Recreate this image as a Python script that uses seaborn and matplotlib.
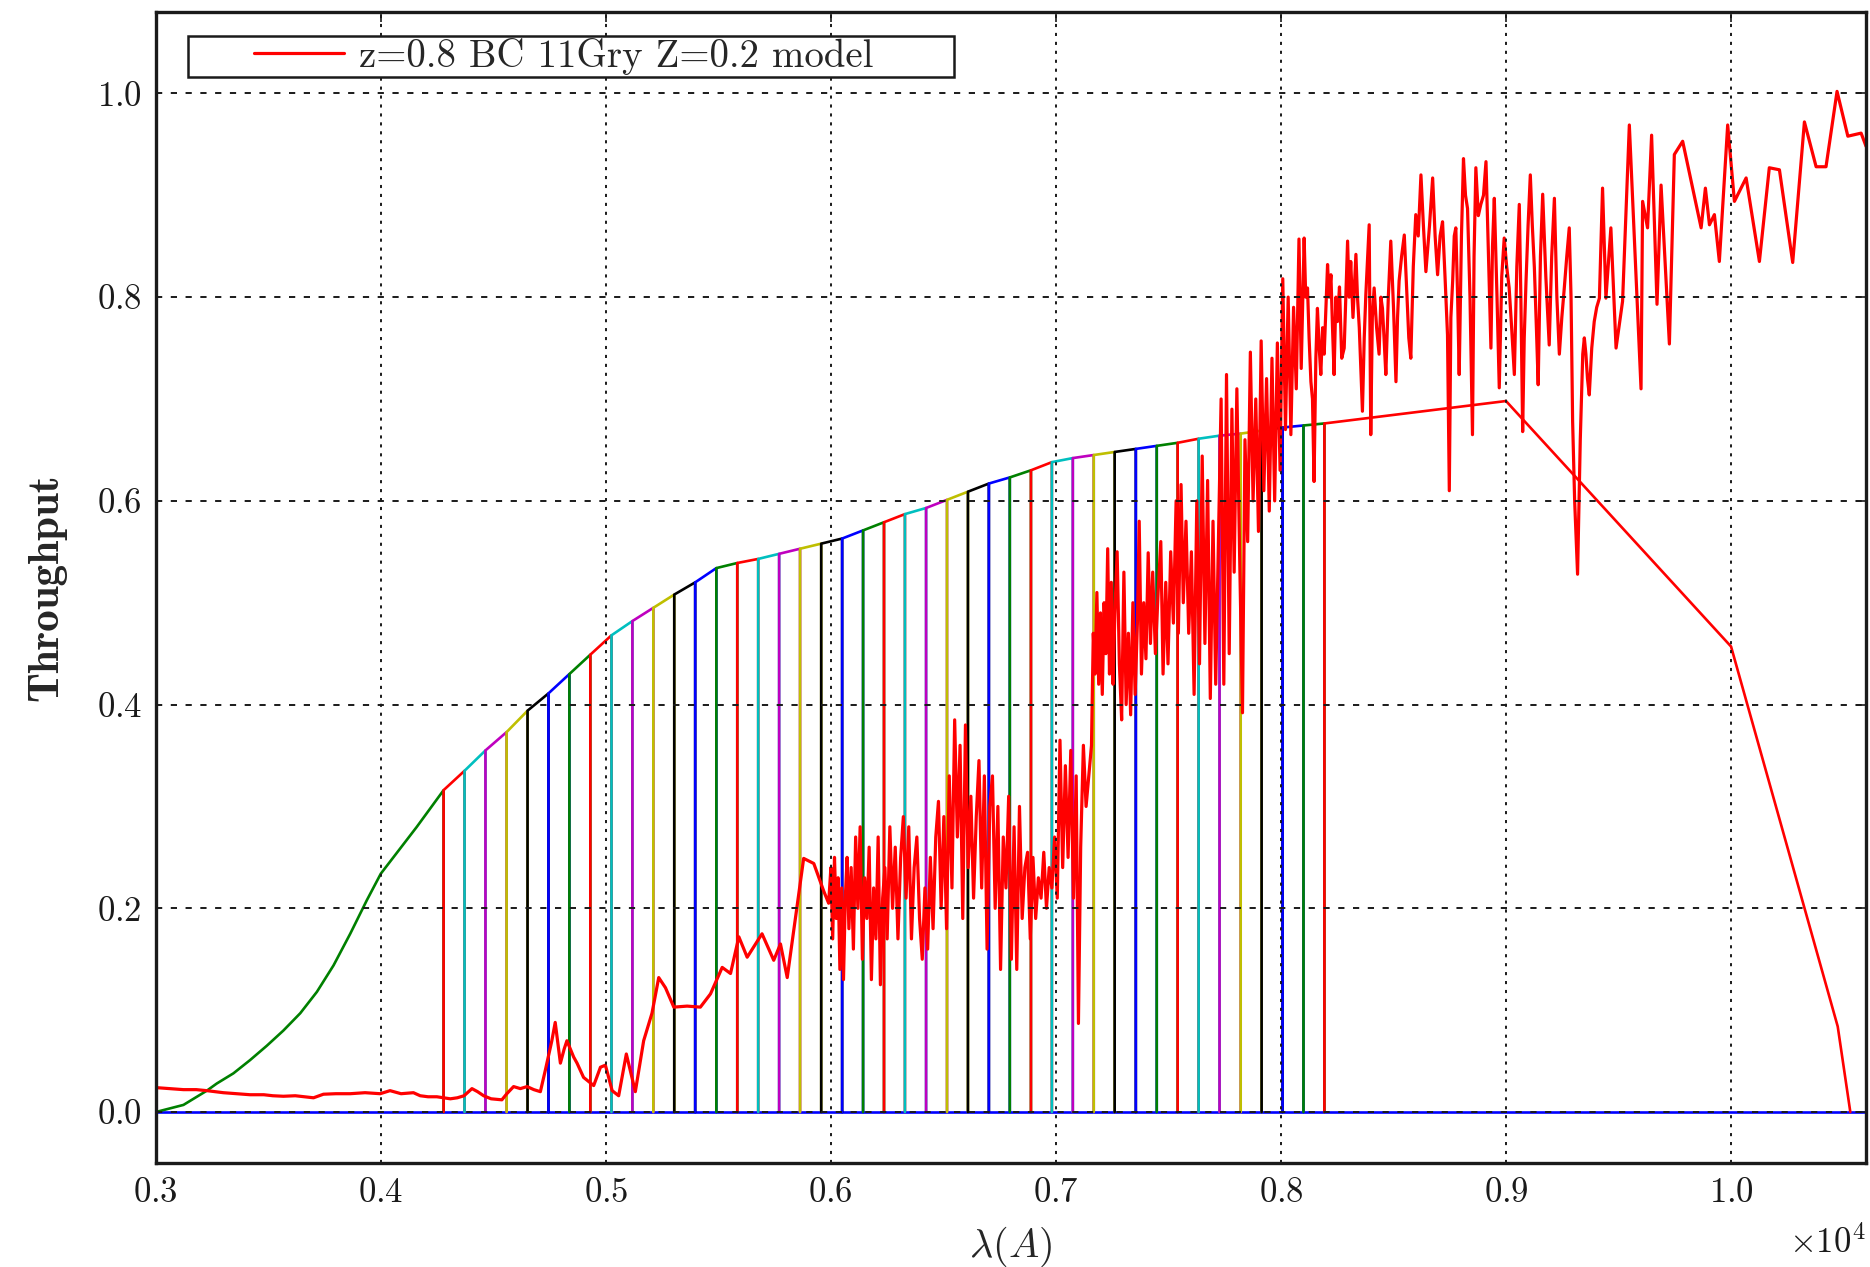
import matplotlib
matplotlib.use("Agg")
import matplotlib.pyplot as plt
import seaborn as sns
from matplotlib.ticker import ScalarFormatter, MultipleLocator
from matplotlib.legend_handler import HandlerLine2D

# ---------------------------------------------------------------------------
# Model spectrum (observed frame, Angstrom) and normalised flux
# ---------------------------------------------------------------------------
spec_wave = [
    3000, 3060, 3123, 3180, 3227, 3300, 3360, 3419, 3480, 3520, 3567, 3620,
    3660, 3701, 3745, 3800, 3864, 3930, 3997, 4041, 4090, 4145, 4175, 4210,
    4249, 4280, 4309, 4340, 4370, 4405, 4430, 4457, 4490, 4538, 4560, 4590,
    4620, 4650, 4680, 4709, 4731, 4760, 4775, 4798, 4815, 4827, 4857, 4872,
    4901, 4946, 4976, 4998, 5028, 5057, 5091, 5131, 5168, 5205, 5235, 5265,
    5302, 5361, 5420, 5465, 5517, 5554, 5591, 5628, 5694, 5746, 5776, 5806,
    5879, 5924, 5968,
    5990, 6000, 6008, 6016, 6024, 6032, 6040, 6048, 6056, 6064, 6072, 6080,
    6090, 6100, 6110, 6120, 6130, 6140, 6150, 6160, 6170, 6180, 6190, 6200,
    6210, 6220, 6230, 6240, 6250, 6262, 6274, 6286, 6298, 6310, 6322, 6334,
    6346, 6358, 6370, 6382, 6394, 6406, 6418, 6430, 6442, 6454, 6466, 6478,
    6490, 6502, 6514, 6526, 6538, 6550, 6562, 6574, 6586, 6598, 6610, 6622,
    6634, 6646, 6658, 6670, 6682, 6694, 6706, 6718, 6730, 6742, 6754, 6766,
    6778, 6790, 6802, 6814, 6826, 6838, 6850, 6862, 6874, 6886, 6898, 6910,
    6922, 6934, 6946, 6958, 6970, 6982, 6994, 7006, 7018, 7030, 7042, 7054,
    7066, 7078, 7090, 7100, 7110, 7122, 7134, 7146,
    7158, 7166, 7174, 7182, 7190, 7198, 7206, 7214, 7222, 7230, 7238, 7246,
    7254, 7262, 7272, 7282, 7292, 7302, 7312, 7322, 7332, 7342, 7352, 7362,
    7370, 7380, 7390, 7400, 7410, 7420, 7430, 7442, 7454, 7466, 7476, 7488,
    7498, 7510, 7522, 7534, 7544, 7556, 7566, 7578, 7590, 7602, 7614, 7626,
    7638, 7650, 7662, 7674, 7686, 7698, 7710, 7722, 7734, 7746, 7758, 7770,
    7782, 7792, 7804, 7816, 7829, 7840, 7852, 7864, 7876, 7888, 7900, 7912,
    7924, 7936, 7948, 7960, 7972, 7984, 7996, 8008, 8020, 8032, 8044, 8056,
    8068, 8080, 8090,
    8103, 8110, 8118, 8125, 8133, 8140, 8147, 8155, 8162, 8170, 8177, 8185,
    8192, 8200, 8207, 8214, 8222, 8229, 8236, 8244, 8251, 8260, 8270, 8281,
    8288, 8296, 8303, 8310, 8320, 8333, 8340, 8348, 8355, 8362, 8370, 8377,
    8385, 8392, 8399, 8406, 8414, 8425, 8436, 8444, 8451, 8458, 8466, 8477,
    8488, 8500, 8511, 8518, 8525, 8536, 8548, 8560, 8568, 8577, 8588, 8599,
    8610, 8622, 8633, 8644, 8660, 8674, 8685, 8696, 8707, 8718, 8729, 8740,
    8748, 8755, 8763, 8770, 8777, 8785, 8792, 8802, 8811, 8820, 8829, 8840,
    8851, 8858, 8866, 8877, 8888, 8900, 8911, 8922, 8933, 8940, 8948, 8960,
    8970, 8981, 8992, 9003, 9014, 9025, 9037, 9048, 9059, 9066, 9074, 9081,
    9089, 9098, 9108, 9117, 9126, 9135, 9143, 9153, 9163, 9177, 9192, 9203,
    9215, 9226, 9237, 9248, 9259, 9270, 9281, 9289, 9296, 9305, 9318, 9330,
    9341, 9348, 9355, 9362, 9370, 9381, 9392, 9403, 9415,
    9429, 9444, 9466, 9489, 9518, 9548, 9600, 9607, 9629, 9647, 9671, 9689,
    9726, 9748, 9785, 9867, 9886, 9904, 9926, 9948, 9985, 10015, 10067, 10126,
    10170, 10215, 10274, 10326, 10378, 10422, 10471, 10519, 10578, 10600,
]
spec_flux = [
    0.024, 0.023, 0.022, 0.022, 0.021, 0.019, 0.018, 0.017, 0.017, 0.016, 0.0155, 0.016,
    0.015, 0.014, 0.0175, 0.018, 0.018, 0.019, 0.018, 0.021, 0.018, 0.019, 0.016, 0.015,
    0.015, 0.014, 0.013, 0.014, 0.016, 0.023, 0.020, 0.016, 0.013, 0.012, 0.018, 0.025,
    0.023, 0.025, 0.022, 0.020, 0.041, 0.070, 0.088, 0.048, 0.062, 0.070, 0.054, 0.048,
    0.034, 0.026, 0.044, 0.046, 0.021, 0.016, 0.057, 0.020, 0.070, 0.097, 0.132, 0.122,
    0.103, 0.104, 0.103, 0.116, 0.142, 0.136, 0.172, 0.152, 0.175, 0.149, 0.165, 0.132,
    0.249, 0.244, 0.217,
    0.205, 0.24, 0.17, 0.25, 0.19, 0.23, 0.14, 0.22, 0.13, 0.21, 0.25, 0.18,
    0.24, 0.16, 0.27, 0.20, 0.28, 0.15, 0.23, 0.19, 0.26, 0.13, 0.22, 0.17,
    0.27, 0.125, 0.21, 0.24, 0.17, 0.28, 0.20, 0.26, 0.17, 0.25, 0.29, 0.21,
    0.28, 0.17, 0.24, 0.27, 0.19, 0.15, 0.22, 0.16, 0.25, 0.18, 0.27, 0.305,
    0.20, 0.29, 0.18, 0.33, 0.22, 0.385, 0.27, 0.36, 0.19, 0.38, 0.24, 0.31,
    0.21, 0.29, 0.345, 0.22, 0.33, 0.16, 0.30, 0.33, 0.20, 0.30, 0.14, 0.27,
    0.22, 0.31, 0.15, 0.28, 0.14, 0.30, 0.19, 0.24, 0.255, 0.17, 0.25, 0.19,
    0.23, 0.21, 0.255, 0.20, 0.24, 0.22, 0.27, 0.21, 0.365, 0.24, 0.34, 0.25,
    0.355, 0.21, 0.33, 0.087, 0.26, 0.36, 0.30, 0.33,
    0.36, 0.47, 0.43, 0.51, 0.42, 0.49, 0.41, 0.50, 0.45, 0.553, 0.43, 0.52,
    0.42, 0.49, 0.55, 0.44, 0.385, 0.53, 0.40, 0.47, 0.39, 0.50, 0.41, 0.48,
    0.58, 0.43, 0.50, 0.445, 0.549, 0.46, 0.53, 0.45, 0.51, 0.56, 0.43, 0.52,
    0.44, 0.55, 0.48, 0.60, 0.47, 0.616, 0.50, 0.58, 0.47, 0.55, 0.41, 0.60,
    0.44, 0.644, 0.46, 0.62, 0.406, 0.58, 0.42, 0.56, 0.70, 0.42, 0.724, 0.45,
    0.69, 0.53, 0.71, 0.55, 0.392, 0.66, 0.56, 0.746, 0.60, 0.70, 0.57, 0.757,
    0.61, 0.72, 0.59, 0.74, 0.60, 0.755, 0.63, 0.818, 0.67, 0.80, 0.665, 0.79,
    0.71, 0.857, 0.73,
    0.858, 0.80, 0.809, 0.76, 0.717, 0.70, 0.619, 0.74, 0.789, 0.75, 0.724, 0.77,
    0.744, 0.79, 0.832, 0.80, 0.822, 0.77, 0.724, 0.80, 0.776, 0.81, 0.74, 0.750,
    0.80, 0.855, 0.80, 0.835, 0.78, 0.842, 0.80, 0.770, 0.73, 0.688, 0.76, 0.802,
    0.84, 0.871, 0.665, 0.78, 0.809, 0.77, 0.744, 0.80, 0.789, 0.76, 0.724, 0.80,
    0.855, 0.79, 0.717, 0.78, 0.816, 0.84, 0.861, 0.80, 0.76, 0.740, 0.83, 0.881,
    0.86, 0.920, 0.87, 0.825, 0.87, 0.917, 0.86, 0.822, 0.86, 0.874, 0.82, 0.763,
    0.610, 0.78, 0.816, 0.86, 0.868, 0.80, 0.724, 0.86, 0.936, 0.90, 0.887, 0.80,
    0.665, 0.84, 0.927, 0.88, 0.891, 0.90, 0.933, 0.84, 0.750, 0.85, 0.897, 0.80,
    0.711, 0.82, 0.858, 0.83, 0.809, 0.77, 0.724, 0.83, 0.891, 0.80, 0.668, 0.76,
    0.816, 0.87, 0.920, 0.87, 0.829, 0.77, 0.714, 0.84, 0.901, 0.82, 0.753, 0.84,
    0.897, 0.80, 0.744, 0.78, 0.809, 0.84, 0.868, 0.80, 0.678, 0.60, 0.528, 0.66,
    0.744, 0.76, 0.744, 0.72, 0.704, 0.75, 0.776, 0.79, 0.799,
    0.907, 0.799, 0.868, 0.750, 0.796, 0.969, 0.710, 0.894, 0.868, 0.959, 0.793, 0.910,
    0.754, 0.940, 0.953, 0.868, 0.907, 0.871, 0.881, 0.835, 0.969, 0.894, 0.917, 0.835,
    0.927, 0.925, 0.834, 0.972, 0.928, 0.928, 1.002, 0.958, 0.961, 0.948,
]

# Blue-side system throughput, up to the first narrow-band edge
blue_wave = [3000, 3123, 3227, 3271, 3345, 3419, 3493, 3567, 3642, 3716,
             3790, 3864, 3938, 4000, 4160, 4279]
blue_thru = [0.000, 0.007, 0.021, 0.028, 0.038, 0.051, 0.065, 0.080, 0.097, 0.118,
             0.144, 0.175, 0.208, 0.234, 0.280, 0.316]

# Narrow-band filter edges and the throughput at each edge
edge_wave = [4279, 4372, 4465, 4559, 4652, 4745, 4838, 4931, 5025, 5118,
             5211, 5304, 5397, 5491, 5584, 5677, 5770, 5863, 5957, 6050,
             6143, 6236, 6329, 6423, 6516, 6609, 6702, 6795, 6889, 6982,
             7075, 7168, 7261, 7355, 7448, 7541, 7634, 7727, 7821, 7914,
             8007, 8100, 8193]
edge_thru = [0.316, 0.335, 0.355, 0.373, 0.394, 0.411, 0.430, 0.449, 0.468, 0.482,
             0.495, 0.508, 0.520, 0.534, 0.539, 0.543, 0.548, 0.553, 0.558, 0.563,
             0.571, 0.579, 0.587, 0.593, 0.601, 0.609, 0.617, 0.623, 0.630, 0.638,
             0.642, 0.645, 0.648, 0.651, 0.654, 0.657, 0.661, 0.664, 0.666, 0.669,
             0.672, 0.674, 0.676]

# Red-side system throughput, after the last narrow-band edge
red_wave = [8193, 9000, 10000, 10474, 10530]
red_thru = [0.676, 0.698, 0.457, 0.084, 0.000]

spec_label = "z=0.8 BC 11Gry Z=0.2 model"

# classic matplotlib 'bgrcmyk' colour cycle
cycle = ["#0000ff", "#008000", "#ff0000", "#00bfbf", "#bf00bf", "#bfbf00", "#000000"]

# ---------------------------------------------------------------------------
sns.set_theme(style="white")
plt.rcParams["font.family"] = ["cmr10", "DejaVu Serif"]
plt.rcParams["mathtext.fontset"] = "cm"
plt.rcParams["axes.formatter.use_mathtext"] = True

fig = plt.figure(figsize=(18.7, 12.67), dpi=100)
ax = fig.add_axes([0.0833, 0.0821, 0.9146, 0.9085])

lw_f = 1.9
common = dict(ax=ax, sort=False, estimator=None, legend=False, linewidth=lw_f)

# baseline at zero across the whole range
sns.lineplot(x=[3000, 10600], y=[0.0, 0.0], color=cycle[0], **common)

# blue-side throughput
sns.lineplot(x=blue_wave + [blue_wave[-1]], y=blue_thru + [0.0], color=cycle[1], **common)

# narrow-band top-hat filters
n_filt = len(edge_wave) - 1
for i in range(n_filt):
    lo, hi = edge_wave[i], edge_wave[i + 1]
    sns.lineplot(x=[lo, lo, hi, hi], y=[0.0, edge_thru[i], edge_thru[i + 1], 0.0],
                 color=cycle[(i + 2) % 7], **common)

# red-side throughput
sns.lineplot(x=[red_wave[0]] + red_wave, y=[0.0] + red_thru,
             color=cycle[(n_filt + 2) % 7], **common)

# galaxy model spectrum
sns.lineplot(x=spec_wave, y=spec_flux, color="#ff0000", linewidth=2.3, ax=ax,
             sort=False, estimator=None, label=spec_label)

# ---------------------------------------------------------------------------
ax.set_xlim(3000, 10600)
ax.set_ylim(-0.05, 1.08)
ax.xaxis.set_major_locator(MultipleLocator(1000))
ax.yaxis.set_major_locator(MultipleLocator(0.2))
fmt = ScalarFormatter(useMathText=True)
fmt.set_powerlimits((0, 0))
ax.xaxis.set_major_formatter(fmt)
ax.xaxis.get_offset_text().set_fontsize(25)
ax.xaxis.OFFSETTEXTPAD = 12

ax.grid(False)
ax.xaxis.grid(True, color="k", linewidth=1.4, linestyle=(0, (1.6, 3.0)))
ax.yaxis.grid(True, color="k", linewidth=1.4, linestyle=(0, (3.2, 4.4)))
ax.set_axisbelow(False)

ax.tick_params(direction="in", length=7, width=1.2, top=True, right=True,
               labelsize=25, pad=10, colors="k")
for sp in ax.spines.values():
    sp.set_linewidth(2.4)
    sp.set_color("k")

ax.set_xlabel(r"$\lambda(A)$", fontsize=29, labelpad=12)
ax.set_ylabel("Throughput", fontsize=31, labelpad=22, family=["cmb10", "cmr10"])

handles, labels = ax.get_legend_handles_labels()
labels = [lab + "      " for lab in labels]
leg = ax.legend(handles, labels, loc="upper left", bbox_to_anchor=(0.0189, 0.979),
                borderaxespad=0, fontsize=28, frameon=True, fancybox=False,
                edgecolor="k", framealpha=1, borderpad=0.05, numpoints=2,
                handlelength=5.6, handletextpad=-1.25,
                handler_map={type(handles[0]): HandlerLine2D(marker_pad=1.65)})
leg.get_frame().set_linewidth(1.8)

fig.savefig("out.png", dpi=100)
